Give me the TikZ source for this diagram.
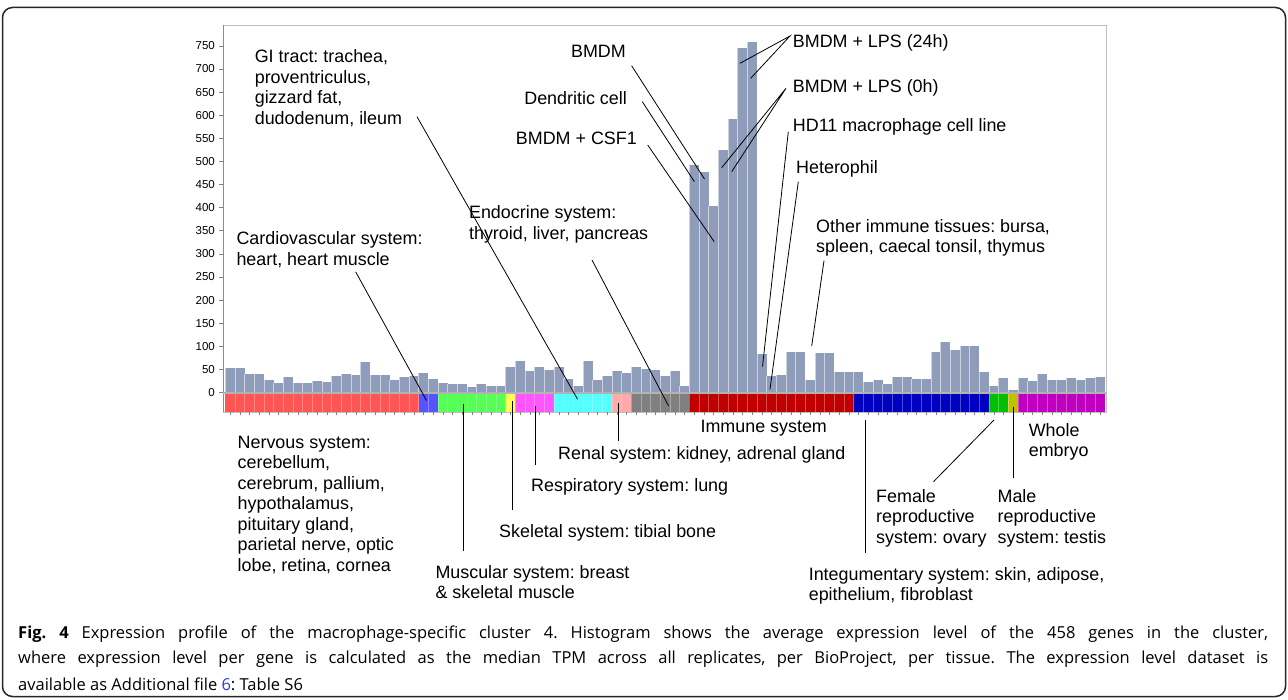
\documentclass[tikz,border=0pt]{standalone}
\usepackage{fontspec}
\setmainfont{Liberation Sans}
\newfontfamily\capfont{Open Sans}
\frenchspacing
\definecolor{barcol}{RGB}{143,156,186}
\definecolor{cRed}{RGB}{255,85,85}
\definecolor{cBlue}{RGB}{85,85,255}
\definecolor{cGreen}{RGB}{85,255,85}
\definecolor{cYellow}{RGB}{255,255,85}
\definecolor{cMag}{RGB}{255,85,255}
\definecolor{cCyan}{RGB}{85,255,255}
\definecolor{cPink}{RGB}{255,170,170}
\definecolor{cGray}{RGB}{128,128,128}
\definecolor{cDRed}{RGB}{192,0,0}
\definecolor{cDBlue}{RGB}{0,0,192}
\definecolor{cDGreen}{RGB}{0,192,0}
\definecolor{cOlive}{RGB}{192,192,0}
\definecolor{cPurple}{RGB}{192,0,192}
\definecolor{linkblue}{RGB}{40,60,220}
\newcommand\lstrut{\rule{0pt}{14.6pt}}
\begin{document}
\begin{tikzpicture}[x=1pt,y=-1pt,
  lbl/.style={font=\frenchspacing\fontsize{17.9}{20.5}\selectfont, inner sep=0pt, align=left, anchor=north west},
  lblr/.style={lbl, align=right, anchor=north east},
  lead/.style={draw=black, line width=0.8pt},
  axlbl/.style={font=\fontsize{11.5}{12}\selectfont, inner sep=0pt, anchor=east},
  capt/.style={font=\capfont\frenchspacing\fontsize{16.5}{20}\selectfont, inner sep=0pt, anchor=west}]
\useasboundingbox (0,0) rectangle (1288,700);
% outer frame
\draw[line width=1.5pt, black!85, rounded corners=10pt] (2.5,7.5) rectangle (1285.5,696.5);
% plot frame
\draw[line width=0.8pt, black!25] (223,25) rectangle (1106,412);
\draw[line width=0.8pt, black!45] (223,25) -- (223,412);
% bars
\foreach \h [count=\i] in {54,54,39,41,26,20,33,20,20,25,23,36,40,38,67,38,38,26,34,36,
42,29,21,19,18,12,18,14,14,56,69,46,56,49,55,29,15,68,26,35,46,43,55,51,48,35,47,13,
492,476,404,525,591,746,758,84,36,37,88,88,27,86,86,44,45,
45,23,27,18,33,34,30,30,88,110,93,100,100,44,14,31,6,31,25,39,27,27,31,27,31,34} {
  \pgfmathsetmacro\xl{225.3+(\i-1)*9.667}
  \pgfmathsetmacro\yt{392.5-\h*0.4622}
  \fill[barcol] (\xl,392.5) rectangle ({\xl+9.667},\yt);
  \draw[line width=0.6pt, white!55!barcol] (\xl,392.5) -- (\xl,\yt);
}
% baseline
\draw[line width=1.6pt, black!30] (223,393) -- (1106,393);
% colour strip
\foreach \a/\b/\c in {1/20/cRed,21/22/cBlue,23/29/cGreen,30/30/cYellow,31/34/cMag,35/40/cCyan,41/42/cPink,43/48/cGray,49/65/cDRed,66/79/cDBlue,80/81/cDGreen,82/82/cOlive,83/91/cPurple} {
  \fill[\c] ({225.3+(\a-1)*9.667},394) rectangle ({225.3+\b*9.667},412);
}
\foreach \i in {2,...,91} {
  \draw[white, opacity=0.3, line width=0.6pt] ({225.3+(\i-1)*9.667},394) -- ({225.3+(\i-1)*9.667},412);
}
\foreach \i in {1,...,91} {
  \draw[black!50, line width=0.5pt] ({225.3+(\i-0.5)*9.667},412) -- ({225.3+(\i-0.5)*9.667},415.5);
}
% y axis
\foreach \v in {0,50,...,750} {
  \draw[black!50, line width=0.6pt] (219,{392.5-\v*0.4622}) -- (223,{392.5-\v*0.4622});
  \node[axlbl] (y\v) at (215,{392.5-\v*0.4622}) {\v};
}
% labels
\node[lbl] (gi) at (254.6,48.2) {\lstrut GI tract: trachea,\\proventriculus,\\gizzard fat,\\dudodenum, ileum};
\node[lblr] (bmdm) at (626,43.2) {\lstrut BMDM};
\node[lblr] (dend) at (627,89.8) {\lstrut Dendritic cell};
\node[lblr] (csf) at (637,129.8) {\lstrut BMDM + CSF1};
\node[lbl] (endo) at (468.9,204.2) {\lstrut Endocrine system:\\thyroid, liver, pancreas};
\node[lbl] (cardio) at (236.3,229.8) {\lstrut Cardiovascular system:\\heart, heart muscle};
\node[lbl] (lps24) at (792.7,33.2) {\lstrut BMDM + LPS (24h)};
\node[lbl] (lps0) at (792.7,77.5) {\lstrut BMDM + LPS (0h)};
\node[lbl] (hd11) at (792.7,117.2) {\lstrut HD11 macrophage cell line};
\node[lbl] (hetero) at (796,159.2) {\lstrut Heterophil};
\node[lbl] (other) at (816,217.5) {\lstrut Other immune tissues: bursa,\\spleen, caecal tonsil, thymus};
\node[lbl] (immune) at (700.4,417.5) {\lstrut Immune system};
\node[lbl] (nerv) at (237.5,433.2) {\lstrut Nervous system:\\cerebellum,\\cerebrum, pallium,\\hypothalamus,\\pituitary gland,\\parietal nerve, optic\\lobe, retina, cornea};
\node[lbl] (renal) at (558,444.8) {\lstrut Renal system: kidney, adrenal gland};
\node[lbl] (resp) at (531,476.5) {\lstrut Respiratory system: lung};
\node[lbl] (skel) at (499,522.2) {\lstrut Skeletal system: tibial bone};
\node[lbl] (musc) at (435.3,563.2) {\lstrut Muscular system: breast\\\& skeletal muscle};
\node[lbl] (integ) at (808.6,565.5) {\lstrut Integumentary system: skin, adipose,\\epithelium, fibroblast};
\node[lbl] (female) at (876,487.2) {\lstrut Female\\reproductive\\system: ovary};
\node[lbl] (male) at (997.4,487.2) {\lstrut Male\\reproductive\\system: testis};
\node[lbl] (whole) at (1028.6,421.5) {\lstrut Whole\\embryo};
% leader coordinates
\coordinate (gi-s) at (417,116.7);   \coordinate (gi-e) at (577.6,399.3);
\coordinate (bm-s) at (631.6,65.7);  \coordinate (bm-e) at (704.5,179);
\coordinate (de-s) at (642.3,101.7); \coordinate (de-e) at (694.4,181.7);
\coordinate (cs-s) at (647.7,145);   \coordinate (cs-e) at (714.2,241.7);
\coordinate (en-s) at (592,260);     \coordinate (en-e) at (668.6,406);
\coordinate (ca-s) at (355.6,271.7); \coordinate (ca-e) at (426.5,400.5);
\coordinate (l24-s) at (790,36);     \coordinate (l24-a) at (740,63.3); \coordinate (l24-b) at (750.7,78.3);
\coordinate (l0-s) at (786,88.3);    \coordinate (l0-a) at (721.7,167.7); \coordinate (l0-b) at (731.7,171.7);
\coordinate (hd-s) at (788.3,131.7); \coordinate (hd-e) at (762.5,366.5);
\coordinate (he-s) at (798.3,181.7); \coordinate (he-e) at (770,389.3);
\coordinate (ot-s) at (824,260.7);   \coordinate (ot-e) at (811.7,346);
\coordinate (re-s) at (618.5,403);   \coordinate (re-e) at (618.5,440.7);
\coordinate (rs-s) at (535,406);     \coordinate (rs-e) at (535,465);
\coordinate (sk-s) at (512.2,401);   \coordinate (sk-e) at (512.2,510);
\coordinate (mu-s) at (463.5,404);   \coordinate (mu-e) at (463.5,550.7);
\coordinate (in-s) at (865.5,420.5); \coordinate (in-e) at (865.5,552.7);
\coordinate (fe-s) at (994,420);     \coordinate (fe-e) at (933.5,481.7);
\coordinate (ma-s) at (1013.5,407);  \coordinate (ma-e) at (1013.5,477.7);
\draw[lead] (gi-s) -- (gi-e);
\draw[lead] (bm-s) -- (bm-e);
\draw[lead] (de-s) -- (de-e);
\draw[lead] (cs-s) -- (cs-e);
\draw[lead] (en-s) -- (en-e);
\draw[lead] (ca-s) -- (ca-e);
\draw[lead] (l24-a) -- (l24-s) -- (l24-b);
\draw[lead] (l0-a) -- (l0-s) -- (l0-b);
\draw[lead] (hd-s) -- (hd-e);
\draw[lead] (he-s) -- (he-e);
\draw[lead] (ot-s) -- (ot-e);
\draw[lead] (re-s) -- (re-e);
\draw[lead] (rs-s) -- (rs-e);
\draw[lead] (sk-s) -- (sk-e);
\draw[lead] (mu-s) -- (mu-e);
\draw[lead] (in-s) -- (in-e);
\draw[lead] (fe-s) -- (fe-e);
\draw[lead] (ma-s) -- (ma-e);
% caption (justified lines)
\node[capt] (cap1) at (18,634) {\makebox[1250pt][s]{\textbf{Fig. 4} Expression profile of the macrophage-specific cluster 4. Histogram shows the average expression level of the 458 genes in the cluster,}};
\node[capt] (cap2) at (18,659) {\makebox[1250pt][s]{where expression level per gene is calculated as the median TPM across all replicates, per BioProject, per tissue. The expression level dataset is}};
\node[capt] (cap3) at (18,684) {available as Additional file {\color{linkblue}6}: Table S6};
\end{tikzpicture}
\end{document}
